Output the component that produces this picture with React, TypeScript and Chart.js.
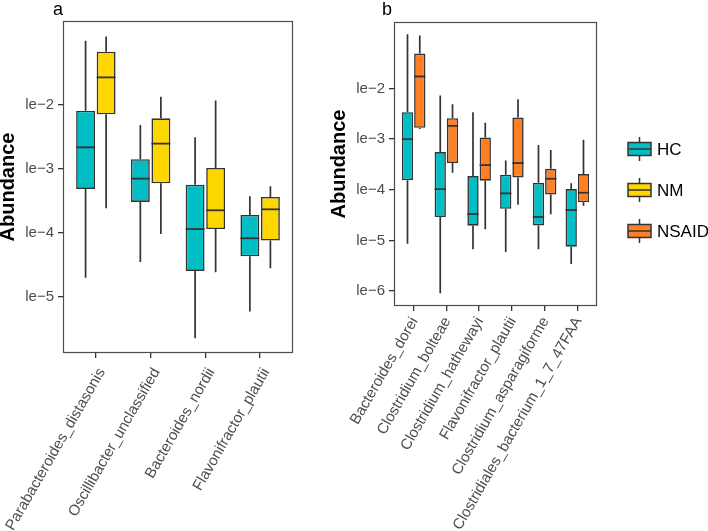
import { useEffect, useRef } from 'react';
import { Chart, registerables } from 'chart.js';

Chart.register(...registerables);

const FONT = "'Liberation Sans', Arial, Helvetica, sans-serif";

// Panel a
const categoriesA = [
  'Parabacteroides_distasonis',
  'Oscillibacter_unclassified',
  'Bacteroides_nordii',
  'Flavonifractor_plautii',
];
// each row: [min, q1, median, q3, max]
const hcA = [
  [2.0e-5, 4.87e-4, 2.18e-3, 8.15e-3, 1.01e-1],
  [3.52e-5, 3.05e-4, 7.06e-4, 1.42e-3, 4.87e-3],
  [2.26e-6, 2.55e-5, 1.15e-4, 5.69e-4, 3.13e-3],
  [5.9e-6, 4.32e-5, 8.26e-5, 1.91e-4, 3.74e-4],
];
const nmA = [
  [2.43e-4, 7.14e-3, 2.7e-2, 6.81e-2, 1.18e-1],
  [9.64e-5, 5.97e-4, 2.49e-3, 6.19e-3, 1.35e-2],
  [2.43e-5, 1.15e-4, 2.26e-4, 1.04e-3, 1.17e-2],
  [2.81e-5, 7.59e-5, 2.34e-4, 3.65e-4, 5.36e-4],
];
const yTicksA = [1e-5, 1e-4, 1e-3, 1e-2];
const yTickLabelsA = ['le−5', 'le−4', 'le−3', 'le−2'];

// Panel b
const categoriesB = [
  'Bacteroides_dorei',
  'Clostridium_bolteae',
  'Clostridium_hathewayi',
  'Flavonifractor_plautii',
  'Clostridium_asparagiforme',
  'Clostridiales_bacterium_1_7_47FAA',
];
const hcB = [
  [8.61e-6, 1.55e-4, 1.0e-3, 3.41e-3, 1.18e-1],
  [9.06e-7, 2.9e-5, 1.03e-4, 5.55e-4, 7.28e-3],
  [6.67e-6, 1.95e-5, 3.32e-5, 1.86e-4, 3.41e-3],
  [5.9e-6, 4.22e-5, 8.49e-5, 1.98e-4, 3.8e-4],
  [6.67e-6, 1.98e-5, 2.9e-5, 1.37e-4, 7.62e-4],
  [3.43e-6, 7.52e-6, 3.98e-5, 1.03e-4, 1.34e-4],
];
const nsaidB = [
  [1.58e-3, 1.67e-3, 1.73e-2, 4.9e-2, 1.11e-1],
  [2.17e-4, 3.37e-4, 1.83e-3, 2.59e-3, 4.9e-3],
  [1.66e-5, 1.51e-4, 3.07e-4, 1.08e-3, 2.1e-3],
  [5.06e-5, 1.75e-4, 3.37e-4, 2.68e-3, 6.15e-3],
  [3.27e-5, 8.11e-5, 1.65e-4, 2.59e-4, 6.07e-4],
  [4.83e-5, 5.64e-5, 8.73e-5, 2.04e-4, 9.68e-4],
];
const yTicksB = [1e-6, 1e-5, 1e-4, 1e-3, 1e-2];
const yTickLabelsB = ['le−6', 'le−5', 'le−4', 'le−3', 'le−2'];

const groupNames = ['HC', 'NM', 'NSAID'];
const groupColors = ['#00BEC4', '#FFD700', '#FF7F24'];

const LINE = '#333333';
const TICK_TEXT = '#4d4d4d';

function boxDataset(label: string, color: string, stats: number[][]) {
  return {
    label,
    data: stats.map((s, i) => ({ x: i + 1, y: [s[1], s[3]] })),
    stats,
    backgroundColor: color,
    borderColor: LINE,
    borderWidth: 1.6,
    borderSkipped: false,
    categoryPercentage: 0.75,
    barPercentage: 0.92,
  };
}

const boxPlugin = {
  id: 'boxParts',
  beforeDatasetsDraw(chart: any) {
    const { ctx, chartArea } = chart;
    const y = chart.scales.y;
    ctx.save();
    ctx.beginPath();
    ctx.rect(chartArea.left, chartArea.top, chartArea.right - chartArea.left, chartArea.bottom - chartArea.top);
    ctx.clip();
    ctx.strokeStyle = LINE;
    ctx.lineWidth = 1.7;
    chart.data.datasets.forEach((ds: any, i: number) => {
      const meta = chart.getDatasetMeta(i);
      meta.data.forEach((el: any, j: number) => {
        const s = ds.stats[j];
        ctx.beginPath();
        ctx.moveTo(el.x, y.getPixelForValue(s[0]));
        ctx.lineTo(el.x, y.getPixelForValue(s[1]));
        ctx.moveTo(el.x, y.getPixelForValue(s[3]));
        ctx.lineTo(el.x, y.getPixelForValue(s[4]));
        ctx.stroke();
      });
    });
    ctx.restore();
  },
  afterDatasetsDraw(chart: any) {
    const { ctx, chartArea } = chart;
    const y = chart.scales.y;
    ctx.save();
    ctx.strokeStyle = LINE;
    ctx.lineWidth = 1.8;
    chart.data.datasets.forEach((ds: any, i: number) => {
      const meta = chart.getDatasetMeta(i);
      meta.data.forEach((el: any, j: number) => {
        const m = y.getPixelForValue(ds.stats[j][2]);
        ctx.beginPath();
        ctx.moveTo(el.x - el.width / 2, m);
        ctx.lineTo(el.x + el.width / 2, m);
        ctx.stroke();
      });
    });
    ctx.strokeStyle = '#4d4d4d';
    ctx.lineWidth = 1.2;
    ctx.strokeRect(chartArea.left + 0.5, chartArea.top + 0.5, chartArea.right - chartArea.left - 1, chartArea.bottom - chartArea.top - 1);
    ctx.restore();
  },
  afterDraw(chart: any) {
    const { ctx, chartArea } = chart;
    const opts = chart.options.plugins.boxParts || {};
    ctx.save();
    ctx.fillStyle = '#000';
    ctx.font = `18px ${FONT}`;
    ctx.textBaseline = 'alphabetic';
    ctx.textAlign = 'left';
    ctx.fillText(opts.letter, chartArea.left - opts.letterDx, 15);
    if (opts.legend) {
      const lx = opts.legendX;
      const bw = 23;
      groupNames.forEach((name, k) => {
        const cy = opts.legendY[k];
        ctx.strokeStyle = LINE;
        ctx.lineWidth = 1.5;
        ctx.beginPath();
        ctx.moveTo(lx + bw / 2, cy - 12);
        ctx.lineTo(lx + bw / 2, cy + 12);
        ctx.stroke();
        ctx.fillStyle = groupColors[k];
        ctx.fillRect(lx, cy - 6.5, bw, 13);
        ctx.strokeRect(lx, cy - 6.5, bw, 13);
        ctx.beginPath();
        ctx.moveTo(lx, cy);
        ctx.lineTo(lx + bw, cy);
        ctx.stroke();
        ctx.fillStyle = '#000';
        ctx.font = `17px ${FONT}`;
        ctx.textBaseline = 'middle';
        ctx.fillText(name, lx + 29, cy + 1);
      });
    }
    ctx.restore();
  },
};

function makeConfig(p: {
  categories: string[];
  datasets: any[];
  yMin: number;
  yMax: number;
  yTicks: number[];
  yTickLabels: string[];
  yWidth: number;
  xHeight: number;
  xPad: number;
  xLabelOffset: number;
  padding: any;
  titlePad: number;
  letter: string;
  letterDx: number;
  legend: boolean;
}) {
  const n = p.categories.length;
  return {
    type: 'bar',
    data: { datasets: p.datasets },
    plugins: [boxPlugin],
    options: {
      responsive: false,
      animation: false,
      layout: { padding: p.padding },
      plugins: {
        legend: { display: false },
        tooltip: { enabled: false },
        boxParts: {
          letter: p.letter,
          letterDx: p.letterDx,
          legend: p.legend,
          legendX: 328,
          legendY: [149, 190, 231],
        },
      },
      scales: {
        x: {
          type: 'linear',
          offset: false,
          bounds: 'data',
          min: 0.4,
          max: n + 0.6,
          grid: { display: true, offset: false, drawOnChartArea: false, drawTicks: true, tickLength: 5, lineWidth: 1.3, color: LINE },
          border: { display: false },
          afterBuildTicks: (scale: any) => {
            scale.ticks = p.categories.map((_, i) => ({ value: i + 1 }));
          },
          afterFit: (scale: any) => {
            scale.height = p.xHeight;
            scale.paddingLeft = 0;
            scale.paddingRight = 0;
          },
          ticks: {
            autoSkip: false,
            minRotation: 60,
            maxRotation: 60,
            padding: p.xPad,
            labelOffset: p.xLabelOffset,
            color: TICK_TEXT,
            font: { family: FONT, size: 15 },
            callback: (v: number) => p.categories[Math.round(v) - 1] ?? '',
          },
        },
        y: {
          type: 'logarithmic',
          bounds: 'data',
          min: p.yMin,
          max: p.yMax,
          grid: { display: true, drawOnChartArea: false, drawTicks: true, tickLength: 5, lineWidth: 1.3, color: LINE },
          border: { display: false },
          afterBuildTicks: (scale: any) => {
            scale.ticks = p.yTicks.map((v) => ({ value: v }));
          },
          afterFit: (scale: any) => {
            scale.width = p.yWidth;
            scale.paddingTop = 0;
            scale.paddingBottom = 0;
          },
          ticks: {
            padding: 4,
            color: TICK_TEXT,
            font: { family: FONT, size: 15 },
            callback: (v: number) => {
              const k = p.yTicks.findIndex((t) => Math.abs(Math.log10(t) - Math.log10(v)) < 1e-6);
              return k >= 0 ? p.yTickLabels[k] : '';
            },
          },
          title: {
            display: true,
            text: 'Abundance',
            color: '#000',
            font: { family: FONT, size: 20, weight: 'bold', lineHeight: 1 },
            padding: { top: p.titlePad, bottom: 0 },
          },
        },
      },
    },
  };
}

function Panel({ cfg, left, width }: { cfg: any; left: number; width: number }) {
  const ref = useRef<HTMLCanvasElement>(null);
  useEffect(() => {
    const chart = new Chart(ref.current as HTMLCanvasElement, cfg);
    return () => chart.destroy();
  }, []);
  return (
    <canvas
      ref={ref}
      width={width}
      height={531}
      style={{ position: 'absolute', left, top: 0, width, height: 531 }}
    />
  );
}

export default function App() {
  const cfgA = makeConfig({
    categories: categoriesA,
    datasets: [boxDataset(groupNames[0], groupColors[0], hcA), boxDataset(groupNames[1], groupColors[1], nmA)],
    yMin: 1.33e-6,
    yMax: 0.2054,
    yTicks: yTicksA,
    yTickLabels: yTickLabelsA,
    yWidth: 63,
    xHeight: 178,
    xPad: 7,
    xLabelOffset: 6,
    padding: { top: 21, right: 7, left: 0, bottom: 0 },
    titlePad: -2,
    letter: 'a',
    letterDx: 10,
    legend: false,
  });
  const cfgB = makeConfig({
    categories: categoriesB,
    datasets: [boxDataset(groupNames[0], groupColors[0], hcB), boxDataset(groupNames[2], groupColors[2], nsaidB)],
    yMin: 5.06e-7,
    yMax: 0.206,
    yTicks: yTicksB,
    yTickLabels: yTickLabelsB,
    yWidth: 94,
    xHeight: 225,
    xPad: 3,
    xLabelOffset: 1,
    padding: { top: 22, right: 111, left: 0, bottom: 0 },
    titlePad: 29,
    letter: 'b',
    letterDx: 12,
    legend: true,
  });
  return (
    <div style={{ position: 'absolute', left: 0, top: 0, width: 708, height: 531, background: '#fff', overflow: 'hidden' }}>
      <Panel cfg={cfgA} left={0} width={300} />
      <Panel cfg={cfgB} left={300} width={408} />
    </div>
  );
}
